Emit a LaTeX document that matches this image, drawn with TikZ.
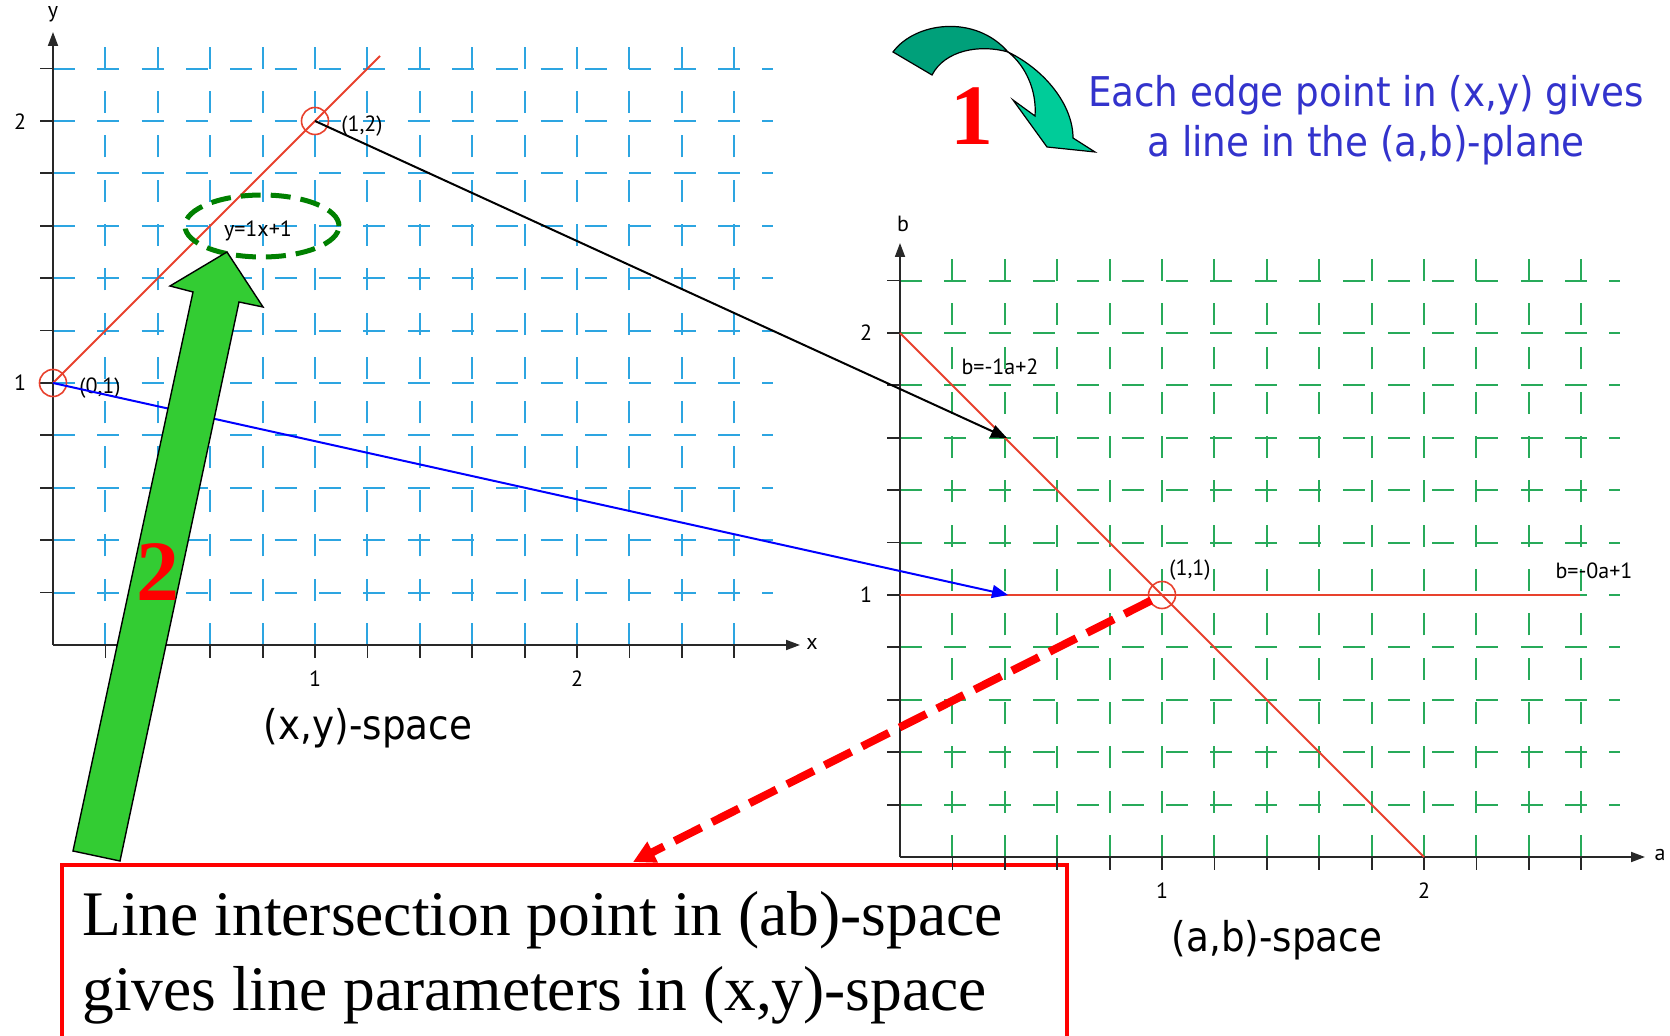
\documentclass[tikz,border=0pt]{standalone}
\usepackage{fontspec}
\setmainfont{Liberation Serif}
\newfontfamily\tahfont[FakeStretch=0.91]{DejaVu Sans}
\newfontfamily\lblfont{PT Sans}
\usetikzlibrary{arrows.meta,shapes.geometric}
\definecolor{gridblue}{RGB}{45,165,225}
\definecolor{gridgreen}{RGB}{40,170,90}
\definecolor{linered}{RGB}{232,65,45}
\definecolor{txtblue}{RGB}{51,51,204}
\definecolor{arrgreen}{RGB}{51,204,51}
\definecolor{tealdark}{RGB}{0,160,122}
\definecolor{teallight}{RGB}{0,204,153}
\definecolor{ellgreen}{RGB}{0,128,0}
\definecolor{axisgray}{RGB}{40,40,40}
\begin{document}
\begin{tikzpicture}[x=0.5pt,y=-0.5pt,
  gridline/.style={line width=1pt, dash pattern=on 11pt off 11.17pt},
  axisline/.style={draw=axisgray, line width=0.9pt},
  axisarrow/.style={axisline, -{Triangle[length=7pt,width=5pt]}},
  lbl/.style={font=\lblfont\fontsize{11}{13}\selectfont, inner sep=0pt},
  bigsans/.style={font=\tahfont\fontsize{20.5}{25}\selectfont, inner sep=0pt},
  redline/.style={draw=linered, line width=0.9pt},
  ptcircle/.style={circle, draw=linered, line width=0.8pt, minimum size=13.5pt, inner sep=0pt},
  conn/.style={line width=1pt, -{Triangle[length=8pt,width=6.5pt]}},
  bignum/.style={font=\bfseries\fontsize{43}{43}\selectfont, text=red, inner sep=0pt},
  boxtext/.style={font=\fontsize{31.75}{37.5}\selectfont, anchor=base west, inner sep=0pt}
]
\useasboundingbox (0,0) rectangle (1670,1036);

% text box
\node[draw=red, line width=2.1pt, fill=white, minimum width=502.5pt, minimum height=92pt, anchor=north west, inner sep=0pt] (box) at (60,863) {};
\node[boxtext] (l1) at (82,935) {Line intersection point in (ab)-space};
\node[boxtext] (l2) at (82,1010) {gives line parameters in (x,y)-space};

% grids
\foreach \ox/\oy/\col in {53/645/gridblue, 900/857/gridgreen}{
  \foreach \k in {1,...,11}
    \draw[gridline, draw=\col] (\ox, {\oy-52.4*\k}) -- ({\ox+720}, {\oy-52.4*\k});
  \foreach \k in {1,...,13}
    \draw[gridline, draw=\col] ({\ox+52.4*\k}, \oy) -- ({\ox+52.4*\k}, {\oy-598});
  \foreach \k in {1,...,11}
    \draw[axisline] ({\ox-13}, {\oy-52.4*\k}) -- (\ox, {\oy-52.4*\k});
  \foreach \k in {1,...,13}
    \draw[axisline] ({\ox+52.4*\k}, \oy) -- ({\ox+52.4*\k}, {\oy+13});
}
% axes
\draw[axisarrow] (53,645) -- (53,32);
\draw[axisarrow] (53,645) -- (800,645);
\draw[axisarrow] (900,857) -- (900,243);
\draw[axisarrow] (900,857) -- (1645,857);

% axis labels
\node[lbl] (ly) at (53,14) {y};
\node[lbl] (lx) at (812,644) {x};
\node[lbl] (ly1) at (20,383) {1};
\node[lbl] (ly2) at (20,122) {2};
\node[lbl] (lx1) at (315,679) {1};
\node[lbl] (lx2) at (577,679) {2};
\node[lbl] (lb) at (903,224) {b};
\node[lbl] (la) at (1660,855) {a};
\node[lbl] (lb1) at (866,595) {1};
\node[lbl] (lb2) at (866,333) {2};
\node[lbl] (la1) at (1162,891) {1};
\node[lbl] (la2) at (1424,891) {2};

% red lines and points
\coordinate (xyend) at (380,56);
\coordinate (ab2) at (900,333);
\coordinate (aend) at (1424,857);
\coordinate (b1) at (900,595);
\coordinate (b1end) at (1580,595);
\draw[redline] (53,383) -- (xyend);
\draw[redline] (ab2) -- (aend);
\draw[redline] (b1) -- (b1end);
\node[ptcircle] (p01) at (53,383) {};
\node[ptcircle] (p12) at (315,121) {};
\node[ptcircle] (p11) at (1162,595) {};

\node[lbl] (t01) at (100,388) {(0,1)};
\node[lbl] (t12) at (362,126) {(1,2)};
\node[lbl] (tline) at (258,231) {y=1x+1};
\node[lbl] (tab2) at (1000,367) {b=-1a+2};
\node[lbl] (t11) at (1190,570) {(1,1)};
\node[lbl] (tb1) at (1594,571) {b=-0a+1};

% ellipse
\node[ellipse, draw=ellgreen, line width=2.5pt, dash pattern=on 10pt off 5pt, minimum width=77pt, minimum height=31pt, inner sep=0pt] (ell) at (262,226) {};

% connectors
\coordinate (tgt1) at (1007,438);
\coordinate (tgt2) at (1008,595);
\draw[conn, draw=black, fill=black] (p12.center) -- (tgt1);
\draw[conn, draw=blue, fill=blue] (p01.center) -- (tgt2);

% big green arrow 2
\draw[fill=arrgreen, draw=black, line width=0.7pt, line join=miter]
  (73,851) -- (120,861) -- (239,302) -- (263,307) -- (227,252) -- (170,286) -- (193,292) -- cycle;
\node[bignum] (n2) at (158,572) {2};

% red dashed arrow
\coordinate (boxtip) at (633,862);
\draw[draw=red, line width=4pt, dash pattern=on 15pt off 6pt, shorten <=6pt, -{Triangle[length=11pt,width=11pt]}] (p11.center) -- (boxtip);

% curved arrow 1
\draw[fill=tealdark, draw=black, line width=0.6pt]
  (893,52) .. controls (915,22) and (975,14) .. (1008,52)
  .. controls (980,44) and (945,50) .. (932,75) -- cycle;
\draw[fill=teallight, draw=black, line width=0.6pt]
  (1008,52) .. controls (1045,70) and (1073,105) .. (1073,138)
  -- (1095,152) -- (1047,147) -- (1013,100) -- (1035,116)
  .. controls (1037,90) and (1025,65) .. cycle;
\node[bignum] (n1) at (972,116) {1};

% texts
\node[bigsans, text=txtblue, align=center] (desc) at (1366,120) {Each edge point in (x,y) gives\\a line in the (a,b)-plane};
\node[bigsans] (xyspace) at (368,728) {(x,y)-space};
\node[bigsans] (abspace) at (1277,940) {(a,b)-space};
\end{tikzpicture}
\end{document}
